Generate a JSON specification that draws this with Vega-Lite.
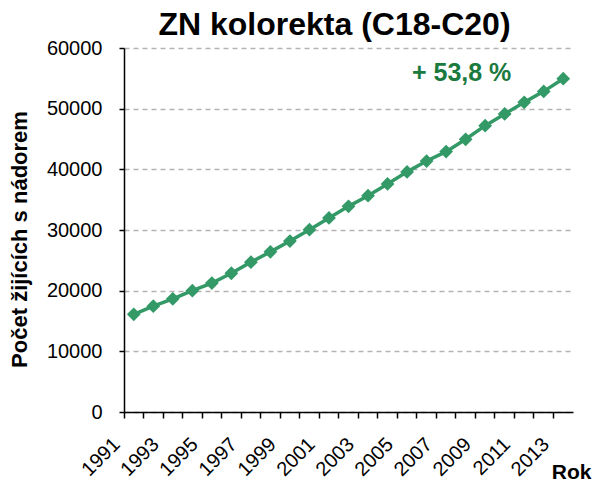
{
  "$schema": "https://vega.github.io/schema/vega-lite/v6.json",
  "width": 449,
  "height": 364,
  "autosize": {"type": "none"},
  "padding": {"left": 124, "top": 48, "right": 22, "bottom": 70},
  "background": "white",
  "config": {
    "font": "Liberation Sans",
    "view": {"stroke": null}
  },
  "title": {
    "text": "ZN kolorekta (C18-C20)",
    "fontSize": 32,
    "fontWeight": "bold",
    "color": "black",
    "anchor": "middle",
    "frame": "group",
    "dx": -14,
    "dy": 40,
    "baseline": "alphabetic",
    "offset": 11
  },
  "data": {
    "values": [
      {"rok": 1991, "pocet": 16100},
      {"rok": 1992, "pocet": 17450},
      {"rok": 1993, "pocet": 18650},
      {"rok": 1994, "pocet": 20000},
      {"rok": 1995, "pocet": 21250},
      {"rok": 1996, "pocet": 22870},
      {"rok": 1997, "pocet": 24700},
      {"rok": 1998, "pocet": 26400},
      {"rok": 1999, "pocet": 28180},
      {"rok": 2000, "pocet": 30050},
      {"rok": 2001, "pocet": 31990},
      {"rok": 2002, "pocet": 33900},
      {"rok": 2003, "pocet": 35660},
      {"rok": 2004, "pocet": 37590},
      {"rok": 2005, "pocet": 39580},
      {"rok": 2006, "pocet": 41370},
      {"rok": 2007, "pocet": 42920},
      {"rok": 2008, "pocet": 44950},
      {"rok": 2009, "pocet": 47200},
      {"rok": 2010, "pocet": 49130},
      {"rok": 2011, "pocet": 51040},
      {"rok": 2012, "pocet": 52850},
      {"rok": 2013, "pocet": 54940}
    ]
  },
  "encoding": {
    "x": {
      "field": "rok",
      "type": "ordinal",
      "scale": {"type": "band", "paddingInner": 0, "paddingOuter": 0},
      "axis": {
        "title": "Rok",
        "titleFontSize": 21,
        "titleFontWeight": "bold",
        "titleColor": "black",
        "titleAlign": "right",
        "titleAnchor": null,
        "titleBaseline": "alphabetic",
        "titleX": 467,
        "titleY": 66,
        "bandPosition": 0,
        "labelAngle": -45,
        "labelAlign": "right",
        "labelBaseline": "middle",
        "labelFontSize": 20,
        "labelColor": "black",
        "labelOffset": -17,
        "labelPadding": 23,
        "labelOverlap": false,
        "labelExpr": "datum.value % 2 == 1 ? datum.label : ''",
        "domainColor": "black",
        "domainWidth": 1.5,
        "tickColor": "black",
        "tickWidth": 1.5,
        "tickSize": 6,
        "grid": false
      }
    },
    "y": {
      "field": "pocet",
      "type": "quantitative",
      "scale": {"domain": [0, 60000], "nice": false},
      "axis": {
        "title": "Počet žijících s nádorem",
        "titleFontSize": 22,
        "titleFontWeight": "bold",
        "titleColor": "black",
        "titleAngle": -90,
        "titleAlign": "center",
        "titleBaseline": "middle",
        "titleAnchor": null,
        "titleX": -105,
        "titleY": 191,
        "values": [0, 10000, 20000, 30000, 40000, 50000, 60000],
        "format": "d",
        "labelFontSize": 20,
        "labelColor": "black",
        "labelPadding": 17,
        "domainColor": "black",
        "domainWidth": 1.5,
        "tickColor": "black",
        "tickWidth": 1.5,
        "tickSize": 5,
        "grid": true,
        "gridColor": "#b3b3b3",
        "gridDash": [5, 4],
        "gridWidth": 1.5
      }
    }
  },
  "layer": [
    {
      "mark": {
        "type": "line",
        "color": "#339966",
        "strokeWidth": 3.5,
        "point": {"shape": "diamond", "size": 190, "filled": true, "color": "#339966", "opacity": 1}
      }
    },
    {
      "transform": [{"filter": "datum.rok == 2008"}],
      "mark": {
        "type": "text",
        "text": "+ 53,8 %",
        "fontSize": 25,
        "fontWeight": "bold",
        "color": "#1b7a3d",
        "align": "center",
        "baseline": "middle",
        "dx": -4
      },
      "encoding": {
        "y": {"datum": 55900, "type": "quantitative"}
      }
    }
  ]
}
